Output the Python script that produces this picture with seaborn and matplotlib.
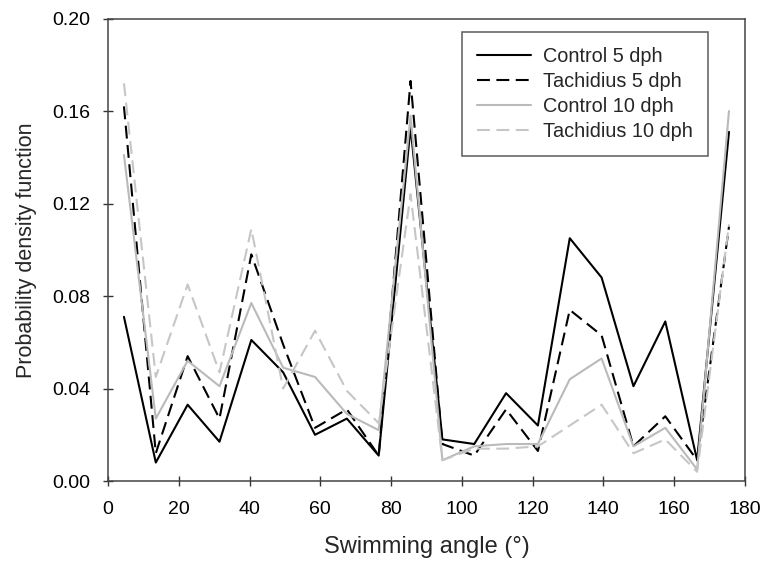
import numpy as np
import pandas as pd
import matplotlib
matplotlib.use("Agg")
import matplotlib.pyplot as plt
import seaborn as sns

# Bin centres (swimming angle, degrees)
angles = [4.5, 13.5, 22.5, 31.5, 40.5, 49.5, 58.5, 67.5, 76.5, 85.5,
          94.5, 103.5, 112.5, 121.5, 130.5, 139.5, 148.5, 157.5, 166.5, 175.5]

control_5 = [0.071, 0.008, 0.033, 0.017, 0.061, 0.047, 0.020, 0.027, 0.011, 0.153,
             0.018, 0.016, 0.038, 0.024, 0.105, 0.088, 0.041, 0.069, 0.009, 0.151]
tachidius_5 = [0.162, 0.012, 0.054, 0.027, 0.098, 0.059, 0.023, 0.031, 0.011, 0.173,
               0.016, 0.011, 0.031, 0.013, 0.074, 0.063, 0.015, 0.028, 0.009, 0.110]
control_10 = [0.141, 0.027, 0.052, 0.041, 0.077, 0.049, 0.045, 0.029, 0.022, 0.158,
              0.009, 0.015, 0.016, 0.016, 0.044, 0.053, 0.015, 0.023, 0.005, 0.160]
tachidius_10 = [0.172, 0.045, 0.085, 0.047, 0.109, 0.040, 0.065, 0.039, 0.025, 0.124,
                0.009, 0.014, 0.014, 0.015, 0.024, 0.033, 0.012, 0.018, 0.004, 0.111]

labels = ["Control 5 dph", "Tachidius 5 dph", "Control 10 dph", "Tachidius 10 dph"]
x_ticks = [0, 20, 40, 60, 80, 100, 120, 140, 160, 180]
y_ticks = [0.00, 0.04, 0.08, 0.12, 0.16, 0.20]

sns.set_style("ticks")
plt.rcParams['font.family'] = ['Liberation Sans', 'DejaVu Sans']

# long-form table for seaborn
df = pd.concat([
    pd.DataFrame({'angle': angles, 'pdf': vals, 'group': lab})
    for lab, vals in zip(labels, [control_5, tachidius_5, control_10, tachidius_10])
], ignore_index=True)

palette = {labels[0]: 'black', labels[1]: 'black',
           labels[2]: '#bababa', labels[3]: '#c6c6c6'}
dashes = {labels[0]: '', labels[1]: (6.2, 3.1),
          labels[2]: '', labels[3]: (6.2, 3.1)}

fig = plt.figure(figsize=(7.64, 5.63), dpi=100)
ax = fig.add_axes([0.1414, 0.1456, 0.8336, 0.8215])

sns.lineplot(data=df, x='angle', y='pdf', hue='group', style='group',
             hue_order=labels, style_order=labels,
             palette=palette, dashes=dashes, linewidth=1.5, ax=ax)

ax.set_xlim(0, 180)
ax.set_ylim(0, 0.20)
ax.set_xticks(x_ticks)
ax.set_yticks(y_ticks)
ax.set_yticklabels([f"{v:.2f}" for v in y_ticks])
ax.tick_params(direction='inout', length=7, width=1, colors='#333333',
               labelcolor='black', labelsize=14, pad=9)
ax.tick_params(axis='x', pad=11)
for s in ax.spines.values():
    s.set_visible(True)
    s.set_color('#444444')
    s.set_linewidth(1.1)

ax.set_xlabel("Swimming angle (°)", fontsize=17, labelpad=13)
ax.set_ylabel("Probability density function", fontsize=15.5, labelpad=11)

leg = ax.legend(loc='upper left', bbox_to_anchor=(0.556, 0.971),
                fontsize=14.3, frameon=True, fancybox=False,
                handlelength=2.7, handletextpad=0.64, labelspacing=0.3,
                borderpad=0.75, borderaxespad=0)
leg.get_frame().set_edgecolor('#333333')
leg.get_frame().set_linewidth(1.1)
for line in leg.get_lines():
    line.set_linewidth(1.5)

fig.savefig('out.png', dpi=100)
